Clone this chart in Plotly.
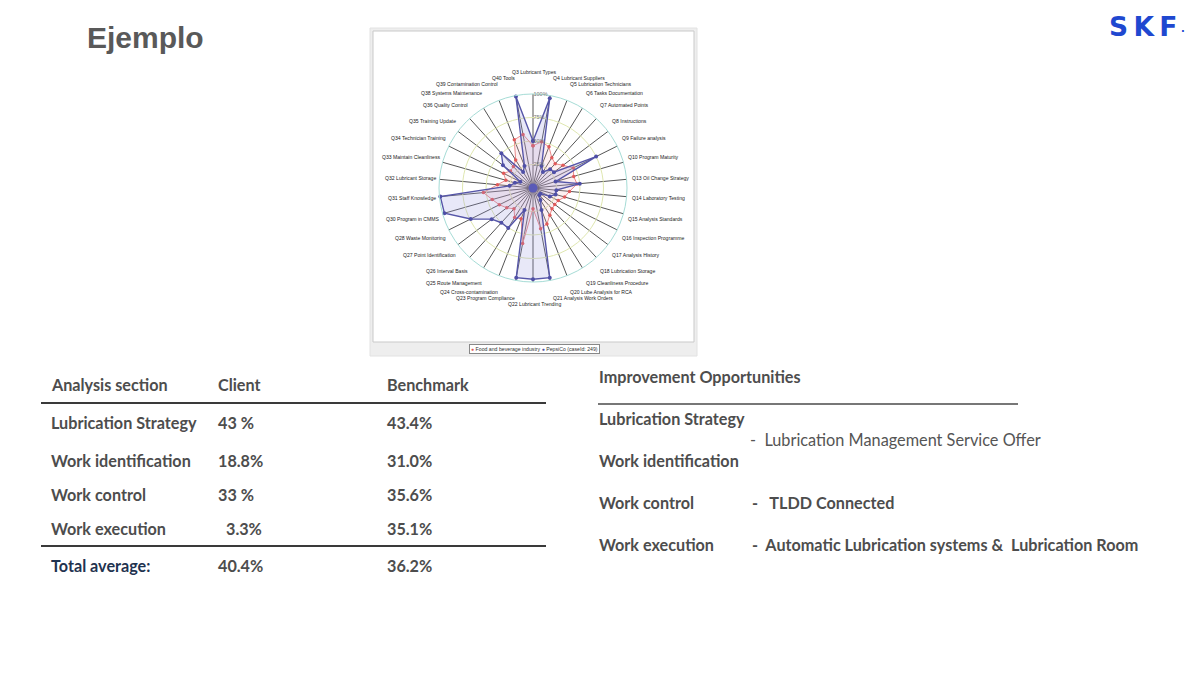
import math
import plotly.graph_objects as go

# ---------------- data ----------------
categories = ["Q3 Lubricant Types", "Q4 Lubricant Suppliers", "Q5 Lubrication Technicians",
              "Q6 Tasks Documentation", "Q7 Automated Points", "Q8 Instructions",
              "Q9 Failure analysis", "Q10 Program Maturity", "Q13 Oil Change Strategy",
              "Q14 Laboratory Testing", "Q15 Analysis Standards", "Q16 Inspection Programme",
              "Q17 Analysis History", "Q18 Lubrication Storage", "Q19 Cleanliness Procedure",
              "Q20 Lube Analysis for RCA", "Q21 Analysis Work Orders", "Q22 Lubricant Trending",
              "Q23 Program Compliance", "Q24 Cross-contamination", "Q25 Route Management",
              "Q26 Interval Basis", "Q27 Point Identification", "Q28 Waste Monitoring",
              "Q30 Program in CMMS", "Q31 Staff Knowledge", "Q32 Lubricant Storage",
              "Q33 Maintain Cleanliness", "Q34 Technician Training", "Q35 Training Update",
              "Q36 Quality Control", "Q38 Systems Maintenance", "Q39 Contamination Control",
              "Q40 Tools"]

pepsico = [50, 97, 25, 20, 27, 28, 75, 25, 50, 25, 25, 20, 10, 10, 15, 25, 97, 97,
           97, 25, 50, 50, 55, 74, 98, 99, 25, 20, 15, 40, 50, 20, 25, 99]

food_bev = [45, 50, 47, 38, 35, 40, 48, 45, 47, 39, 35, 30, 29, 30, 34, 41, 44, 22,
            60, 35, 37, 30, 35, 40, 45, 53, 38, 30, 35, 30, 31, 35, 55, 58]

center_value = [0]

radial_ticks = [25, 50, 75, 100]
radial_tick_text = ["25%", "50%", "75%", "100%"]

series_names = ["Food and beverage industry", "PepsiCo (caseId: 249)"]

table_header = ["Analysis section", "Client", "Benchmark"]
table_sections = ["Lubrication Strategy", "Work identification", "Work control", "Work execution"]
table_client = ["43 %", "18.8%", "33 %", "  3.3%"]
table_benchmark = ["43.4%", "31.0%", "35.6%", "35.1%"]
total_label = "Total average:"
total_client = "40.4%"
total_benchmark = "36.2%"

opp_title = "Improvement Opportunities"
opp_sections = ["Lubrication Strategy", "Work identification", "Work control", "Work execution"]
opp_actions = ["-  Lubrication Management Service Offer", "", "-   TLDD Connected",
               "-  Automatic Lubrication systems &  Lubrication Room"]

# ---------------- figure ----------------
W, H = 1200, 674


def px(x):
    return x / W


def py(y):
    return 1 - y / H


def closed(v):
    return list(v) + [v[0]]


fig = go.Figure()

fig.add_trace(go.Scatterpolar(
    r=closed(food_bev), theta=closed(categories), mode="lines+markers",
    line=dict(color="#e88a8a", width=1), marker=dict(color="#e05a5a", size=3.5),
    fill="toself", fillcolor="rgba(245,170,180,0.18)", name=series_names[0],
    showlegend=False))

fig.add_trace(go.Scatterpolar(
    r=closed(pepsico), theta=closed(categories), mode="lines+markers",
    line=dict(color="#5656a8", width=1.4), marker=dict(color="#4f4fa6", size=4),
    fill="toself", fillcolor="rgba(150,150,225,0.22)", name=series_names[1],
    showlegend=False))

fig.add_trace(go.Scatterpolar(
    r=center_value, theta=[categories[0]], mode="markers",
    marker=dict(color="#5a5ab8", size=9), showlegend=False, hoverinfo="skip"))

cx, cy, R = 533, 188, 94
fig.update_layout(
    width=W, height=H, paper_bgcolor="white", plot_bgcolor="white",
    margin=dict(l=0, r=0, t=0, b=0),
    polar=dict(
        domain=dict(x=[px(cx - R), px(cx + R)], y=[py(cy + R), py(cy - R)]),
        bgcolor="white",
        angularaxis=dict(
            type="category", direction="clockwise", rotation=90,
            categoryarray=categories, categoryorder="array",
            showline=True, linecolor="#a6dcd6", linewidth=1,
            gridcolor="#555555", gridwidth=0.9, ticks="", showticklabels=False),
        radialaxis=dict(
            range=[0, 100], tickvals=radial_ticks, ticktext=radial_tick_text,
            showline=False, gridcolor="#dfe7b0", gridwidth=1, angle=90,
            tickangle=90, ticks="", side="clockwise",
            tickfont=dict(family="Liberation Sans", size=5.5, color="#777777")),
    ),
)

shapes = []
# chart frames
shapes.append(dict(type="rect", xref="paper", yref="paper",
                   x0=px(370), x1=px(697), y0=py(356), y1=py(28),
                   fillcolor="#eeeeee", line=dict(color="#e2e2e2", width=1), layer="below"))
shapes.append(dict(type="rect", xref="paper", yref="paper",
                   x0=px(373), x1=px(694), y0=py(342), y1=py(31),
                   fillcolor="white", line=dict(color="#c9c9c9", width=1), layer="below"))
# table rules
shapes.append(dict(type="line", xref="paper", yref="paper", x0=px(41), x1=px(546),
                   y0=py(403), y1=py(403), line=dict(color="#3a3a3a", width=2)))
shapes.append(dict(type="line", xref="paper", yref="paper", x0=px(41), x1=px(546),
                   y0=py(546), y1=py(546), line=dict(color="#3a3a3a", width=2)))
shapes.append(dict(type="line", xref="paper", yref="paper", x0=px(598), x1=px(1018),
                   y0=py(404), y1=py(404), line=dict(color="#4a4a4a", width=1.5)))
fig.update_layout(shapes=shapes)

ann = []

# category labels around the radar (placed on an ellipse like the original)
LAB_CX, LAB_A, LAB_B = 534, 97, 112
n = len(categories)
for k, lab in enumerate(categories):
    th = math.radians(k * 360.0 / n)
    s, c = math.sin(th), math.cos(th)
    lx = LAB_CX + LAB_A * s
    ly = cy - LAB_B * c
    xa = "left" if s > 0.05 else ("right" if s < -0.05 else "center")
    ya = "bottom" if c > 0.99 else ("top" if c < -0.99 else "middle")
    ann.append(dict(x=px(lx), y=py(ly), xref="paper", yref="paper", text=lab,
                    showarrow=False, xanchor=xa, yanchor=ya, borderpad=0,
                    font=dict(family="Liberation Sans", size=5.1, color="#222222")))

TXT = "#4d4d4d"


def text(x, y, s, size=16.2, color=TXT, weight=700, family="Lato", anchor="left"):
    ann.append(dict(x=px(x), y=py(y), xref="paper", yref="paper", text=s, showarrow=False,
                    xanchor=anchor, yanchor="middle",
                    font=dict(family=family, size=size, color=color, weight=weight)))


# title + logo
text(85, 38, "Ejemplo", size=30, color="#595959", weight=700, family="Liberation Sans")
text(1179, 27, "S\u2009K\u2009F", size=26.5, color="#1f48d0", weight=900,
     family="DejaVu Sans", anchor="right")
text(1179, 32, "\u00b7", size=10, color="#1f48d0", weight=700,
     family="DejaVu Sans", anchor="left")

# legend of the radar
ann.append(dict(
    x=px(534), y=py(349), xref="paper", yref="paper", showarrow=False,
    xanchor="center", yanchor="middle",
    text=("<span style='color:#e05a5a'>\u25cf</span> " + series_names[0] +
          " <span style='color:#4f4fa6'>\u25cf</span> " + series_names[1]),
    font=dict(family="Liberation Sans", size=5.2, color="#333333"),
    bgcolor="white", bordercolor="#888888", borderwidth=1, borderpad=1))

# left table
col_x = [49, 216, 385]
text(col_x[0], 384, table_header[0])
text(col_x[1], 384, table_header[1])
text(col_x[2], 384, table_header[2])
row_y = [422, 460, 494, 528]
for i, yv in enumerate(row_y):
    text(col_x[0], yv, table_sections[i])
    cl = table_client[i]
    if cl.startswith("  "):
        text(col_x[1] + 8, yv, cl.strip())
    else:
        text(col_x[1], yv, cl)
    text(col_x[2], yv, table_benchmark[i])
text(col_x[0], 565, total_label, color="#1f3350", weight=700)
text(col_x[1], 565, total_client)
text(col_x[2], 565, total_benchmark)

# right block
text(597, 376, opp_title)
opp_y = [418, 460, 502, 544]
for i, yv in enumerate(opp_y):
    text(597, yv, opp_sections[i])
text(748, 439, opp_actions[0], size=16.3, color="#555555", weight=400)
text(750, 502, opp_actions[2])
text(750, 544, opp_actions[3])

fig.update_layout(annotations=ann)

fig.write_html("out.html", post_script="document.body.style.margin='0px';",
               config={"displayModeBar": False})
